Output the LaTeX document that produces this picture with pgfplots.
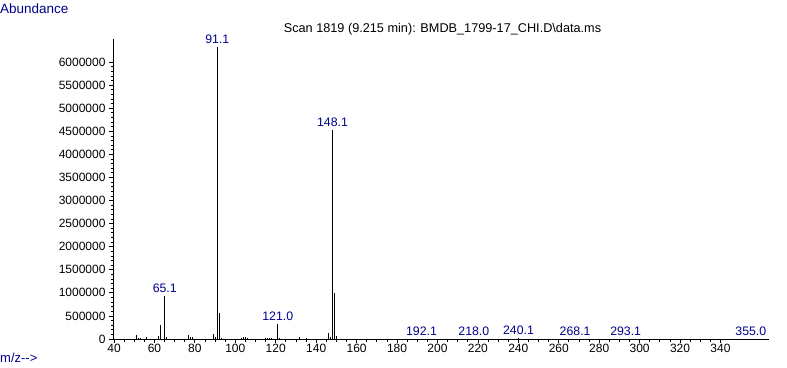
\documentclass[border=0pt]{standalone}
\usepackage{pgfplots}
\pgfplotsset{compat=1.18}
\usepackage{pgfplotstable}
\usepackage{fontspec}
\setmainfont{Liberation Sans}
\definecolor{lbl}{RGB}{0,0,140}

\pgfplotstableread{
mz ab
51 90000
52 30000
53 30000
56 45000
62 70000
63 300000
65 930000
66 50000
77 90000
78 40000
79 40000
89 100000
90 50000
91 6320000
92 570000
93 30000
103 30000
104 40000
105 40000
106 25000
115 25000
116 25000
117 25000
118 25000
121 330000
122 30000
132 40000
135 25000
146 120000
147 40000
148 4530000
149 1000000
150 65000
192 5000
218 5000
240 30000
268 5000
293 5000
355 5000
}\peaks

\pgfplotstableread{
mz ab label
91.1 6320000 91.1
148.1 4530000 148.1
65.1 930000 65.1
121.0 330000 121.0
192.1 5000 192.1
218.0 5000 218.0
240.1 30000 240.1
268.1 5000 268.1
293.1 5000 293.1
355.0 5000 355.0
}\labels

\begin{document}
\begin{tikzpicture}[x=1pt,y=1pt]
\useasboundingbox (0,0) rectangle (787,367);
\begin{axis}[
  at={(113pt,28pt)}, anchor=south west,
  scale only axis, width=656pt, height=300pt,
  xmin=39.5, xmax=364, ymin=0, ymax=6500000,
  axis lines=left, axis line style={-, line width=0.8pt},
  tick align=outside,
  major tick length=4pt, minor tick length=2.5pt,
  every tick/.style={black, line width=0.8pt},
  xtick={40,60,...,340}, minor x tick num=3,
  ytick={0,500000,...,6000000}, minor y tick num=4,
  yticklabels={0,500000,1000000,1500000,2000000,2500000,3000000,3500000,4000000,4500000,5000000,5500000,6000000},
  scaled y ticks=false,
  /pgf/number format/assume math mode=true,
  tick label style={font=\fontsize{12}{14}\selectfont},
  xticklabel style={yshift=2pt},
  clip=false,
]
\addplot[ycomb, black, line width=1pt, mark=none] table[x=mz, y=ab] {\peaks};
\addplot[draw=none, mark=none, nodes near coords, point meta=explicit symbolic,
  every node near coord/.style={font=\fontsize{12.3}{14}\selectfont, text=lbl, anchor=south, inner sep=1pt, yshift=2pt}]
  table[x=mz, y=ab, meta=label] {\labels};
\end{axis}
\node[anchor=west, text=lbl, font=\fontsize{13.5}{15}\selectfont, inner sep=0pt] at (0,358) {Abundance};
\node[anchor=west, text=lbl, font=\fontsize{13}{15}\selectfont, inner sep=0pt] at (0,9) {m/z-{}->};
\node[anchor=center, text=black, font=\fontsize{12.7}{15}\selectfont, inner sep=0pt] at (442.5,338) {Scan 1819 (9.215 min): BMDB\_1799-17\_CHI.D\textbackslash data.ms};
\end{tikzpicture}
\end{document}
